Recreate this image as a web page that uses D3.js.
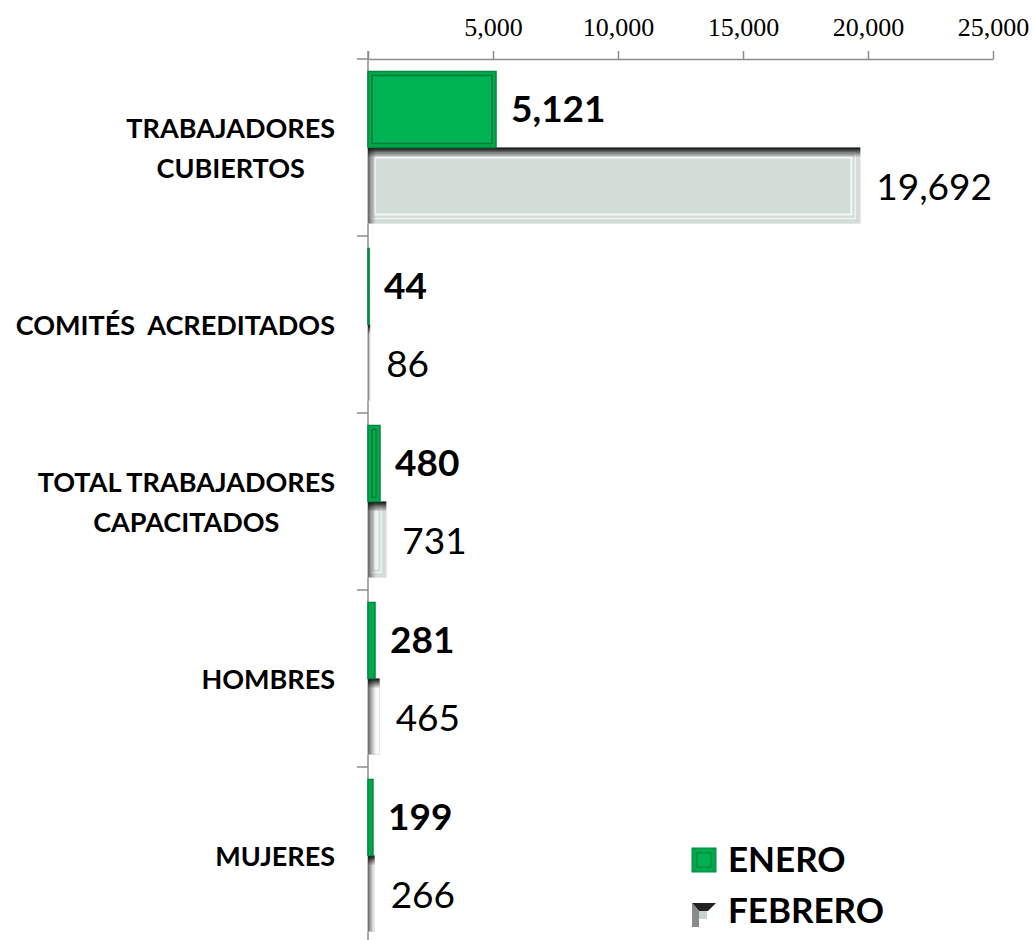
<!DOCTYPE html>
<html>
<head>
<meta charset="utf-8">
<script src="https://cdn.jsdelivr.net/npm/d3@7"></script>
<style>
  body { margin: 0; background: #fff; }
  svg { display: block; }
</style>
</head>
<body>
<div class="canvas"></div>
<script>
// Data
const categories = [
  ["TRABAJADORES", "CUBIERTOS"],
  ["COMITÉS  ACREDITADOS"],
  ["TOTAL TRABAJADORES", "CAPACITADOS"],
  ["HOMBRES"],
  ["MUJERES"]
];
const series = ["ENERO", "FEBRERO"];
const enero = [5121, 44, 480, 281, 199];
const febrero = [19692, 86, 731, 465, 266];
const tickValues = [0, 5000, 10000, 15000, 20000, 25000];

const dims = { width: 1032, height: 940 };
const catKeys = categories.map((c) => c.join(" "));

const svg = d3
  .select(".canvas")
  .append("svg")
  .attr("width", dims.width)
  .attr("height", dims.height);

// Gradients for the bevelled bars
const defs = svg.append("defs");
const topShade = defs.append("linearGradient").attr("id", "topShade")
  .attr("x1", 0).attr("y1", 0).attr("x2", 0).attr("y2", 1);
topShade.append("stop").attr("offset", "0%").attr("stop-color", "#000").attr("stop-opacity", 0.95);
topShade.append("stop").attr("offset", "100%").attr("stop-color", "#000").attr("stop-opacity", 0);
const leftShade = defs.append("linearGradient").attr("id", "leftShade")
  .attr("x1", 0).attr("y1", 0).attr("x2", 1).attr("y2", 0);
leftShade.append("stop").attr("offset", "0%").attr("stop-color", "#555").attr("stop-opacity", 0.9);
leftShade.append("stop").attr("offset", "100%").attr("stop-color", "#777").attr("stop-opacity", 0);

// Scales
const x = d3.scaleLinear().domain([0, 25000]).range([368, 993]);
const y0 = d3.scaleBand().domain(catKeys).range([59, 944]).padding(0);
const y1 = d3
  .scaleBand()
  .domain(series)
  .range([0, y0.bandwidth()])
  .paddingInner(0)
  .paddingOuter(0.164);

// Top axis
const xAxis = d3
  .axisTop(x)
  .tickValues(tickValues)
  .tickSize(8)
  .tickSizeOuter(0)
  .tickPadding(15)
  .tickFormat((d) => (d === 0 ? "" : d3.format(",")(d)));

const axisG = svg.append("g").attr("transform", "translate(0,59)").call(xAxis);
axisG.select(".domain").attr("stroke", "#8c8c8c").attr("stroke-width", 1.5);
axisG.selectAll(".tick line").attr("stroke", "#8c8c8c").attr("stroke-width", 1.5);
axisG
  .selectAll(".tick text")
  .attr("fill", "#000")
  .style("font-family", "'Liberation Serif', 'Times New Roman', serif")
  .style("font-size", "26px");

// Left axis line and category separators
const gridColor = "#8c8c8c";
svg.append("line")
  .attr("x1", 357).attr("x2", 368).attr("y1", 59).attr("y2", 59)
  .attr("stroke", gridColor).attr("stroke-width", 1.5);
svg.append("line")
  .attr("x1", x(0)).attr("x2", x(0)).attr("y1", 51).attr("y2", 944)
  .attr("stroke", gridColor).attr("stroke-width", 1.5);
svg.selectAll(".sep")
  .data(catKeys.slice(1).concat(["end"]))
  .enter()
  .append("line")
  .attr("class", "sep")
  .attr("x1", 357)
  .attr("x2", x(0))
  .attr("y1", (d) => (d === "end" ? y0.range()[1] : y0(d)))
  .attr("y2", (d) => (d === "end" ? y0.range()[1] : y0(d)))
  .attr("stroke", gridColor)
  .attr("stroke-width", 1.5);

// Bars
const groups = svg
  .selectAll(".cat")
  .data(catKeys)
  .enter()
  .append("g")
  .attr("class", "cat")
  .attr("transform", (d) => `translate(0,${y0(d)})`);

groups.each(function (key, i) {
  const g = d3.select(this);
  const bh = y1.bandwidth();

  // FEBRERO bar (grey, bevelled)
  const fy = y1("FEBRERO");
  const fw = x(febrero[i]) - x(0);
  const fb = g.append("g").attr("transform", `translate(${x(0)},${fy})`);
  fb.append("rect").attr("width", fw).attr("height", bh)
    .attr("fill", "#d3ddd8").attr("stroke", "#e6e6e6").attr("stroke-width", 1);
  if (fw > 14) {
    fb.append("rect").attr("x", 7).attr("y", 10).attr("width", fw - 16).attr("height", bh - 19)
      .attr("fill", "none").attr("stroke", "#f4f7f5").attr("stroke-width", 2);
    fb.append("rect").attr("x", 3).attr("y", 5).attr("width", fw - 8).attr("height", bh - 10)
      .attr("fill", "none").attr("stroke", "#eef2f0").attr("stroke-width", 1.5);
  } else {
    fb.select("rect").attr("fill", "#fafafa");
  }
  fb.append("rect").attr("width", Math.min(8, fw)).attr("height", bh).attr("fill", "url(#leftShade)");
  fb.append("rect").attr("width", fw).attr("height", Math.min(10, bh)).attr("fill", "url(#topShade)");

  // ENERO bar (green, bevelled)
  const ey = y1("ENERO");
  const ew = x(enero[i]) - x(0);
  const eb = g.append("g").attr("transform", `translate(${x(0)},${ey})`);
  eb.append("rect").attr("width", ew).attr("height", bh)
    .attr("fill", "#00a94d").attr("stroke", "#008a3e").attr("stroke-width", 1.5);
  if (ew > 8) {
    eb.append("rect").attr("x", 4).attr("y", 4).attr("width", ew - 8).attr("height", bh - 8)
      .attr("fill", "#00b352").attr("stroke", "#007a36").attr("stroke-width", 1.5);
  }

  // Value labels
  g.append("text")
    .attr("x", x(enero[i]) + 15)
    .attr("y", ey + bh / 2 + 13)
    .text(d3.format(",")(enero[i]))
    .style("font-family", "Lato, 'Open Sans', sans-serif")
    .style("font-weight", "bold")
    .style("font-size", "37px")
    .attr("fill", "#000");

  g.append("text")
    .attr("x", x(febrero[i]) + 16)
    .attr("y", fy + bh / 2 + 14)
    .text(d3.format(",")(febrero[i]))
    .style("font-family", "Lato, 'Open Sans', sans-serif")
    .style("font-size", "37px")
    .attr("fill", "#000");

  // Category label
  const lines = categories[i];
  const lh = 40;
  const label = g.append("text")
    .style("font-family", "Lato, 'Open Sans', sans-serif")
    .style("font-weight", "bold")
    .style("font-size", "27px")
    .style("white-space", "pre")
    .attr("fill", "#000");
  const mid = y0.bandwidth() / 2;
  const firstBase = mid + 10 - ((lines.length - 1) * lh) / 2;
  if (lines.length === 1) {
    label.attr("text-anchor", "end").attr("x", 335).attr("y", firstBase).text(lines[0]);
  } else {
    label.attr("text-anchor", "middle");
    lines.forEach((l, j) => {
      label.append("tspan").attr("x", 0).attr("y", firstBase + j * lh).text(l);
    });
    const w = label.node().getBBox().width;
    label.selectAll("tspan").attr("x", 335 - w / 2);
  }
});

// Legend
const legend = svg.append("g").attr("transform", "translate(692,848)");
const eKey = legend.append("g");
eKey.append("rect").attr("width", 24).attr("height", 24).attr("fill", "#00a94d").attr("stroke", "#008a3e");
eKey.append("rect").attr("x", 5).attr("y", 5).attr("width", 14).attr("height", 14)
  .attr("fill", "#00b352").attr("stroke", "#007a36");
const fKey = legend.append("g").attr("transform", "translate(0,55)");
fKey.append("rect").attr("width", 24).attr("height", 24).attr("fill", "#fff");
fKey.append("polygon").attr("points", "0,0 24,0 16,8 7,8").attr("fill", "#222");
fKey.append("polygon").attr("points", "0,0 7,8 7,24 0,24").attr("fill", "#8a8a8a");
fKey.append("rect").attr("x", 7).attr("y", 8).attr("width", 8).attr("height", 8).attr("fill", "#c9d3ce");

legend.selectAll(".ltext")
  .data(series)
  .enter()
  .append("text")
  .attr("class", "ltext")
  .attr("x", 36)
  .attr("y", (d, i) => 24 + i * 51)
  .text((d) => d)
  .style("font-family", "Lato, 'Open Sans', sans-serif")
  .style("font-weight", "bold")
  .style("font-size", "35px")
  .attr("fill", "#000");
</script>
</body>
</html>
